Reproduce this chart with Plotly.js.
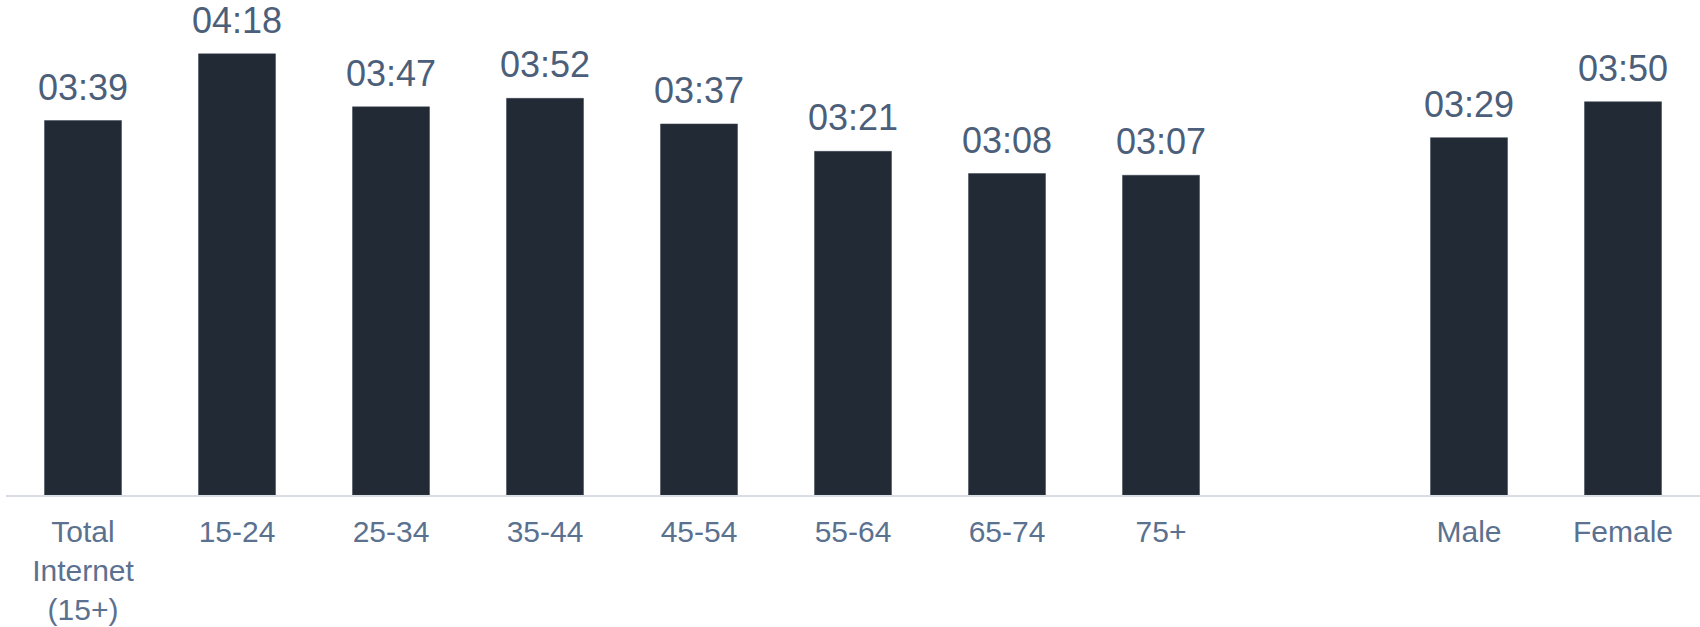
<!DOCTYPE html>
<html>
<head>
<meta charset="utf-8">
<script src="https://cdn.plot.ly/plotly-3.0.1.min.js"></script>
<style>html,body{margin:0;padding:0;background:#fff;}#chart{width:1700px;height:627px;}</style>
</head>
<body>
<div id="chart"></div>
<script>
// Categories (one blank spacer slot between age groups and gender)
const categories = ["Total<br>Internet<br>(15+)", "15-24", "25-34", "35-44", "45-54", "55-64", "65-74", "75+", " ", "Male", "Female"];
// Average time, in minutes
const minutes = [219, 258, 227, 232, 217, 201, 188, 187, null, 209, 230];
// Labels as shown (hh:mm)
const valueLabels = ["03:39", "04:18", "03:47", "03:52", "03:37", "03:21", "03:08", "03:07", "", "03:29", "03:50"];

const FONT = "Liberation Sans, Arial, sans-serif";

const trace = {
  type: "bar",
  x: categories,
  y: minutes,
  marker: {color: "#222a35", line: {color: "#3a4350", width: 0.5}},
  width: 0.5,
  hoverinfo: "skip"
};

const annotations = [];
categories.forEach((c, i) => {
  if (minutes[i] == null) return;
  annotations.push({
    x: c, y: minutes[i], xref: "x", yref: "y",
    text: valueLabels[i], showarrow: false,
    yanchor: "bottom", yshift: 11,
    font: {family: FONT, size: 36, color: "#4b5f7b"}
  });
});

const layout = {
  width: 1700, height: 627,
  margin: {l: 6, r: 0, t: 0, b: 132},
  paper_bgcolor: "#ffffff", plot_bgcolor: "#ffffff",
  showlegend: false,
  xaxis: {
    type: "category",
    categoryorder: "array", categoryarray: categories,
    showline: true, linecolor: "#d9dde4", linewidth: 2,
    showgrid: false, zeroline: false, ticks: "",
    tickfont: {family: FONT, size: 30, color: "#5b7190"},
    ticklabelstandoff: 9
  },
  yaxis: {visible: false, range: [0, 289.5], showgrid: false, zeroline: false, fixedrange: true},
  annotations: annotations
};

Plotly.newPlot("chart", [trace], layout, {displayModeBar: false, staticPlot: true});
</script>
</body>
</html>
